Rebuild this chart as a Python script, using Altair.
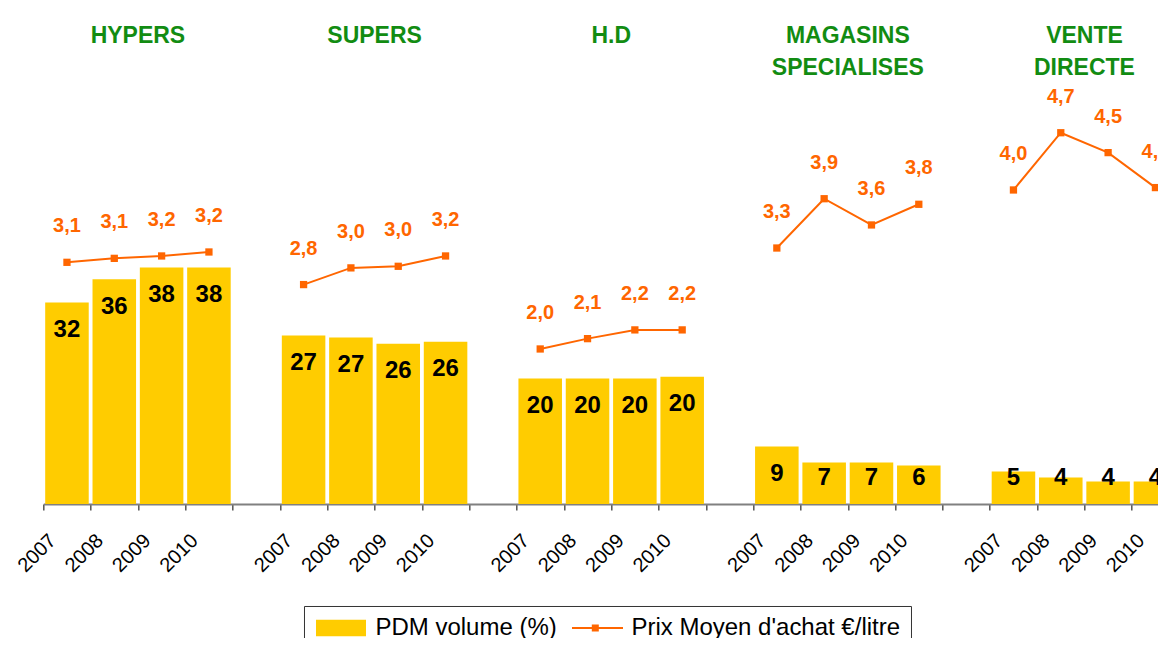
import json
import altair as alt
import pandas as pd

# ---------------- data ----------------
channels = ["HYPERS", "SUPERS", "H.D", "MAGASINS\nSPECIALISES", "VENTE\nDIRECTE"]
years = ["2007", "2008", "2009", "2010"]
pdm_volume = [
    [32.3, 36.0, 37.9, 37.9],
    [27.0, 26.7, 25.7, 26.0],
    [20.1, 20.1, 20.1, 20.4],
    [9.2, 6.65, 6.65, 6.17],
    [5.2, 4.25, 3.6, 3.6],
]
prix_moyen = [
    [3.09, 3.14, 3.17, 3.22],
    [2.81, 3.02, 3.04, 3.17],
    [2.00, 2.13, 2.24, 2.24],
    [3.27, 3.89, 3.56, 3.82],
    [4.00, 4.72, 4.47, 4.03],
]
series_names = ["PDM volume (%)", "Prix Moyen d'achat €/litre"]

# ---------------- build tables ----------------
per_group = len(years) + 1  # one empty slot between groups
rows = []
for g, ch in enumerate(channels):
    for i, yr in enumerate(years):
        rows.append(
            dict(
                channel=ch,
                year=yr,
                slot=g * per_group + i,
                pdm=pdm_volume[g][i],
                prix=prix_moyen[g][i],
                s_pdm=series_names[0],
                s_prix=series_names[1],
            )
        )
df = pd.DataFrame(rows)
titles = pd.DataFrame(
    dict(channel=channels, center=[g * per_group + len(years) / 2 for g in range(len(channels))])
)

ORANGE = "#FF6600"
GOLD = "#FFCC00"
GREEN = "#128C12"
FONT = "Liberation Sans"

x_scale = alt.Scale(domain=[0, 23.55], nice=False, zero=False)
bar_y = alt.Scale(domain=[0, 79.49], nice=False, zero=False)
prix_y = alt.Scale(domain=[0.05, 6.289], nice=False, zero=False)

color_scale = alt.Scale(domain=series_names, range=[GOLD, ORANGE])
shape_scale = alt.Scale(
    domain=series_names,
    range=[
        "M-1,-0.83H4V0.83H-1Z",
        "M-1,-0.1H4.1V0.1H-1Z M0.98,-0.36H1.68V0.36H0.98Z",
    ],
)
leg = alt.Legend(
    title=None,
    orient="none",
    legendX=260.7,
    legendY=598,
    direction="horizontal",
)

label_list = json.dumps(years + [""])
x_axis = alt.Axis(
    values=list(range(len(channels) * per_group - 1)),
    labelExpr=f"{label_list}[datum.value % {per_group}]",
    labelAngle=-45,
    labelAlign="right",
    labelBaseline="top",
    labelPadding=20,
    labelOffset=2,
    labelFontSize=20,
    labelFont=FONT,
    labelColor="black",
    labelOverlap=False,
    labelFlush=False,
    labelBound=False,
    domainColor="#808080",
    domainWidth=2,
    tickColor="#555555",
    tickSize=6,
    tickWidth=1.5,
    grid=False,
    title=None,
)

base = alt.Chart(df).transform_calculate(
    x0="datum.slot + 0.04",
    x1="datum.slot + 0.96",
    xc="datum.slot + 0.5",
    ty="max(datum.pdm - 5.53, 3.04)",
    plabel="replace(format(datum.prix, '.1f'), '.', ',')",
    blabel="format(datum.pdm, '.0f')",
)

bars = base.mark_rect(opacity=1).encode(
    x=alt.X("x0:Q", scale=x_scale, axis=x_axis),
    x2="x1:Q",
    y=alt.Y("pdm:Q", scale=bar_y, axis=None),
    y2=alt.datum(0),
    color=alt.Color("s_pdm:N", scale=color_scale, legend=leg),
)

bar_text = base.mark_text(
    font=FONT, fontSize=24, fontWeight="bold", color="black", baseline="alphabetic", align="center"
).encode(
    x=alt.X("xc:Q", scale=x_scale, axis=x_axis),
    y=alt.Y("ty:Q", scale=bar_y, axis=None),
    text="blabel:N",
)

line = base.mark_line(color=ORANGE, strokeWidth=2).encode(
    x=alt.X("xc:Q", scale=x_scale, axis=x_axis),
    y=alt.Y("prix:Q", scale=prix_y, axis=None),
    detail="channel:N",
)

points = base.mark_point(shape="square", filled=True, size=53, color=ORANGE, opacity=1).encode(
    x=alt.X("xc:Q", scale=x_scale, axis=x_axis),
    y=alt.Y("prix:Q", scale=prix_y, axis=None),
)

carrier = base.mark_point(filled=True, size=0, opacity=1).encode(
    x=alt.X("xc:Q", scale=x_scale, axis=x_axis),
    y=alt.Y("prix:Q", scale=prix_y, axis=None),
    color=alt.Color("s_prix:N", scale=color_scale, legend=leg),
    shape=alt.Shape("s_prix:N", scale=shape_scale, legend=leg),
)

line_text = base.mark_text(
    font=FONT, fontSize=20, fontWeight="bold", color=ORANGE, baseline="alphabetic", align="center", dy=-30
).encode(
    x=alt.X("xc:Q", scale=x_scale, axis=x_axis),
    y=alt.Y("prix:Q", scale=prix_y, axis=None),
    text="plabel:N",
)

title_text = alt.Chart(titles).mark_text(
    font=FONT, fontSize=23, fontWeight="bold", color=GREEN, baseline="top", align="center",
    lineBreak="\n", lineHeight=32,
).encode(
    x=alt.X("center:Q", scale=x_scale, axis=x_axis),
    y=alt.value(17),
    text="channel:N",
)

chart = (
    alt.layer(bars, bar_text, line, points, carrier, line_text, title_text)
    .resolve_scale(y="independent")
    .properties(
        width=1114.5,
        height=496,
        autosize=alt.AutoSizeParams(type="none"),
        padding={"left": 35.3, "top": 0, "right": 0, "bottom": 134},
    )
    .configure_view(stroke=None)
    .configure_legend(
        symbolSize=400,
        labelFontSize=24,
        labelFont=FONT,
        labelColor="black",
        labelOffset=37.5,
        columnPadding=13,
        padding=10,
        strokeColor="#333333",
        labelLimit=0,
        symbolStrokeWidth=0,
    )
)

chart.save("out.html", embed_options={"renderer": "svg", "actions": False})
